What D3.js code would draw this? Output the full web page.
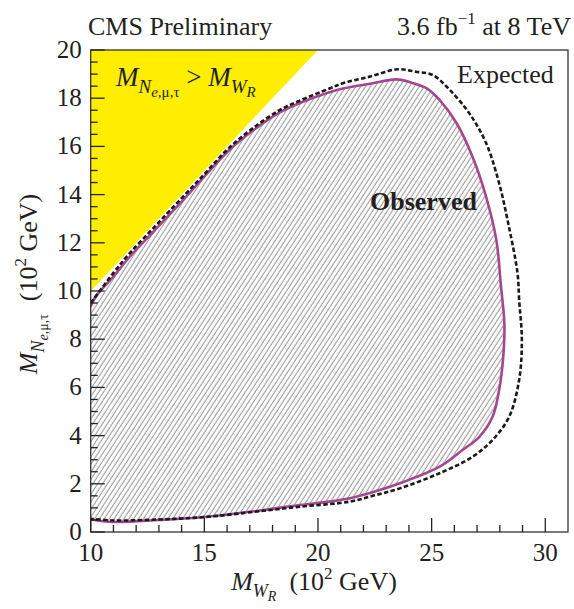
<!DOCTYPE html>
<html>
<head>
<meta charset="utf-8">
<script src="https://cdn.jsdelivr.net/npm/d3@7"></script>
<style>
body{margin:0;background:#fff}
text{font-family:"Liberation Serif","Times New Roman",serif;fill:#231f20}
</style>
</head>
<body>
<svg id="chart" width="574" height="609"></svg>
<script>
// observed exclusion contour (10^2 GeV)
const obsX=[10,10.2,11.0,11.7,12.8,13.9,15.0,16.1,17.2,18.3,19.2,20.5,21.1,22.3,23.45,24.2,24.8,25.35,26.1,26.8,27.4,27.85,28.05,28.2,28.15,27.97,27.68,27.1,26.36,25.35,23.6,22.4,21.4,20.5,19.2,17.6,15.0,13.0,11.0,10.0];
const obsY=[9.35,9.75,10.6,11.4,12.5,13.6,14.75,15.85,16.7,17.4,17.8,18.25,18.4,18.6,18.78,18.62,18.4,17.93,16.96,15.57,13.9,12.1,10.2,8.66,7.27,5.89,4.78,3.95,3.4,2.71,2.02,1.65,1.4,1.26,1.12,0.91,0.62,0.5,0.42,0.52];
// expected contour
const expX=[10,11.0,11.7,12.8,13.9,15.0,16.1,17.2,18.3,19.2,20.5,21.1,22.3,23.5,24.3,25.05,25.8,26.66,27.4,27.97,28.4,28.78,28.85,28.97,28.85,28.41,27.68,26.8,25.35,23.6,22.4,21.4,19.2,17.6,15.0,13.0,11.0,10.0];
const expY=[9.5,10.75,11.55,12.65,13.75,14.85,15.95,16.8,17.5,17.9,18.4,18.62,18.9,19.2,19.1,18.96,18.34,17.37,16.13,14.47,12.67,10.73,9.63,7.97,6.31,4.78,3.82,3.12,2.44,1.81,1.5,1.26,1.05,0.88,0.62,0.52,0.48,0.55];
// forbidden region M_N > M_WR
const yellowX=[10,10,20];
const yellowY=[10,20,20];
const xTickLabels=[10,15,20,25,30];
const yTickLabels=[0,2,4,6,8,10,12,14,16,18,20];

const svg=d3.select("#chart");
const L=90.7,R=568,T=50,B=532;
const x=d3.scaleLinear().domain([10,31]).range([L,R]);
const y=d3.scaleLinear().domain([0,20]).range([B,T]);

const defs=svg.append("defs");
defs.append("clipPath").attr("id","plot")
    .append("rect").attr("x",L).attr("y",T).attr("width",R-L).attr("height",B-T);
const pat=defs.append("pattern").attr("id","hatch")
    .attr("patternUnits","userSpaceOnUse")
    .attr("width",4.1).attr("height",10)
    .attr("patternTransform","rotate(33)");
pat.append("line").attr("x1",1).attr("x2",1).attr("y1",0).attr("y2",10)
    .attr("stroke","#808080").attr("stroke-width",0.85);

const pts=(xs,ys)=>xs.map((v,i)=>[v,ys[i]]);
const line=d3.line().x(d=>x(d[0])).y(d=>y(d[1])).curve(d3.curveCatmullRom.alpha(0.5));

const g=svg.append("g").attr("clip-path","url(#plot)");

g.append("path")
    .attr("d",d3.line().x(d=>x(d[0])).y(d=>y(d[1]))(pts(yellowX,yellowY))+"Z")
    .attr("fill","#ffee00");

g.append("path")
    .attr("d",line(pts(obsX,obsY))+"Z")
    .attr("fill","url(#hatch)");

g.append("path")
    .attr("d",line(pts(obsX,obsY)))
    .attr("fill","none").attr("stroke","#a4478f").attr("stroke-width",2.6);

g.append("path")
    .attr("d",line(pts(expX,expY)))
    .attr("fill","none").attr("stroke","#1a1a1a").attr("stroke-width",2.6)
    .attr("stroke-dasharray","4.5,2.4");

// frame and ticks
svg.append("rect").attr("x",L).attr("y",T).attr("width",R-L).attr("height",B-T)
    .attr("fill","none").attr("stroke","#333").attr("stroke-width",1.3);

const tk=svg.append("g").attr("stroke","#222").attr("stroke-width",1.3);
d3.range(10,31,1).forEach(v=>{
    const len=v%5===0?14:7;
    tk.append("line").attr("x1",x(v)).attr("x2",x(v)).attr("y1",B).attr("y2",B-len);
});
d3.range(0,20.01,0.5).forEach(v=>{
    const len=v%2===0?14:7;
    tk.append("line").attr("x1",L).attr("x2",L+len).attr("y1",y(v)).attr("y2",y(v));
});

svg.append("g").selectAll("text").data(xTickLabels).enter().append("text")
    .attr("x",d=>x(d)).attr("y",B+29).attr("text-anchor","middle")
    .attr("font-size",25).text(d=>d);
svg.append("g").selectAll("text").data(yTickLabels).enter().append("text")
    .attr("x",L-9).attr("y",d=>y(d)+8).attr("text-anchor","end")
    .attr("font-size",25).text(d=>d);

// titles
svg.append("text").attr("x",88).attr("y",35).attr("font-size",26).text("CMS Preliminary");
const lumi=svg.append("text").attr("x",571).attr("y",35).attr("font-size",26).attr("text-anchor","end");
lumi.append("tspan").text("3.6 fb");
lumi.append("tspan").attr("font-size",17).attr("dy",-11).text("\u22121");
lumi.append("tspan").attr("dy",11).text(" at 8 TeV");

svg.append("text").attr("x",457).attr("y",83).attr("font-size",26).text("Expected");
svg.append("text").attr("x",370).attr("y",210).attr("font-size",26).attr("font-weight","bold").text("Observed");

// yellow region label
const yl=svg.append("text").attr("x",116).attr("y",86).attr("font-size",27);
yl.append("tspan").attr("font-style","italic").text("M");
yl.append("tspan").attr("font-style","italic").attr("font-size",19).attr("dy",7).text("N");
yl.append("tspan").attr("font-size",15).attr("dy",4).attr("font-style","italic").text("e");
yl.append("tspan").attr("font-size",15).text(",\u03bc,\u03c4");
yl.append("tspan").attr("dy",-11).text(" > ");
yl.append("tspan").attr("font-style","italic").text("M");
yl.append("tspan").attr("font-style","italic").attr("font-size",19).attr("dy",7).text("W");
yl.append("tspan").attr("font-style","italic").attr("font-size",15).attr("dy",4).text("R");

// axis titles
const xl=svg.append("text").attr("x",314).attr("y",590).attr("font-size",26).attr("text-anchor","middle");
xl.append("tspan").attr("font-style","italic").text("M");
xl.append("tspan").attr("font-style","italic").attr("font-size",18).attr("dy",7).text("W");
xl.append("tspan").attr("font-style","italic").attr("font-size",14).attr("dy",4).text("R");
xl.append("tspan").attr("dy",-11).text("\u2002(10");
xl.append("tspan").attr("font-size",17).attr("dy",-11).text("2");
xl.append("tspan").attr("dy",11).text(" GeV)");

const ylab=svg.append("text").attr("transform","translate(37,284) rotate(-90)")
    .attr("font-size",26).attr("text-anchor","middle");
ylab.append("tspan").attr("font-style","italic").text("M");
ylab.append("tspan").attr("font-style","italic").attr("font-size",18).attr("dy",7).text("N");
ylab.append("tspan").attr("font-size",14).attr("dy",4).attr("font-style","italic").text("e");
ylab.append("tspan").attr("font-size",14).text(",\u03bc,\u03c4");
ylab.append("tspan").attr("dy",-11).text("\u2002(10");
ylab.append("tspan").attr("font-size",17).attr("dy",-11).text("2");
ylab.append("tspan").attr("dy",11).text(" GeV)");
</script>
</body>
</html>
